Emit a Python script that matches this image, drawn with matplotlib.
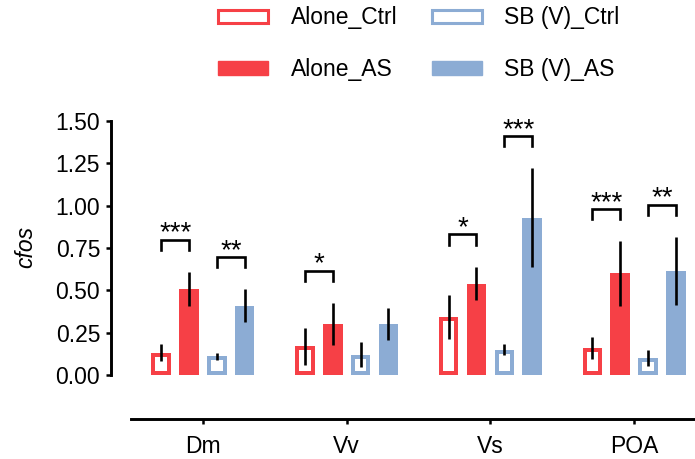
import matplotlib.pyplot as plt
from matplotlib.patches import Patch
import numpy as np

plt.rcParams['font.family'] = ['Liberation Sans', 'DejaVu Sans']

# data
regions = ['Dm', 'Vv', 'Vs', 'POA']
groups = ['Alone_Ctrl', 'Alone_AS', 'SB (V)_Ctrl', 'SB (V)_AS']
alone_ctrl = [0.13, 0.17, 0.34, 0.16]
alone_ctrl_err = [0.05, 0.11, 0.13, 0.065]
alone_as = [0.51, 0.30, 0.54, 0.60]
alone_as_err = [0.10, 0.125, 0.10, 0.19]
sb_ctrl = [0.11, 0.12, 0.15, 0.10]
sb_ctrl_err = [0.02, 0.075, 0.03, 0.047]
sb_as = [0.41, 0.30, 0.93, 0.615]
sb_as_err = [0.095, 0.093, 0.29, 0.20]
# significance: (region index, first bar, second bar, label)
sig = [(0, 0, 1, '***'), (0, 2, 3, '**'), (1, 0, 1, '*'),
       (2, 0, 1, '*'), (2, 2, 3, '***'), (3, 0, 1, '***'), (3, 2, 3, '**')]

red = '#F64046'
blue = '#8CACD4'

fig = plt.figure(figsize=(6.95, 4.59), dpi=100)
ax = fig.add_axes([111 / 695, 40 / 459, 584 / 695, 319 / 459])

x = np.arange(len(regions))
pitch = 0.1935
width = 0.136
offsets = np.array([-1.5, -0.5, 0.5, 1.5]) * pitch

# hollow bars: stroke is centered on the edge, so shrink to keep outer size
lw_px = 4
dx = lw_px / 143.7
dy = (lw_px / 2) / 169.3

means = [alone_ctrl, alone_as, sb_ctrl, sb_as]
errs = [alone_ctrl_err, alone_as_err, sb_ctrl_err, sb_as_err]
colors = [red, red, blue, blue]
hollow = [True, False, True, False]

for i in range(4):
    m = np.array(means[i])
    if hollow[i]:
        ax.bar(x + offsets[i], m - 2 * dy, width=width - dx, bottom=dy,
               facecolor='white', edgecolor=colors[i], linewidth=lw_px * 0.72)
    else:
        ax.bar(x + offsets[i], m, width=width, color=colors[i], linewidth=0)
    ax.errorbar(x + offsets[i], m, yerr=errs[i], fmt='none', ecolor='black',
                elinewidth=1.9, capsize=0, zorder=3)

# brackets and stars
for r, a, b, lab in sig:
    top = max(means[a][r] + errs[a][r], means[b][r] + errs[b][r]) + 0.19
    xa = x[r] + offsets[a]
    xb = x[r] + offsets[b]
    ax.plot([xa, xa, xb, xb], [top - 0.06, top, top, top - 0.06],
            color='black', lw=1.9, solid_joinstyle='miter')
    ax.text((xa + xb) / 2, top - 0.005, lab, ha='center', va='baseline',
            fontsize=20)

ax.set_xlim(-0.640, 3.424)
ax.set_ylim(-0.26, 1.624)
ax.set_yticks(np.arange(0, 1.51, 0.25))
ax.set_yticklabels([f'{v:.2f}' for v in np.arange(0, 1.51, 0.25)])
ax.set_xticks(x)
ax.set_xticklabels(regions)

for s in ['top', 'right']:
    ax.spines[s].set_visible(False)
ax.spines['left'].set_bounds(0, 1.5)
ax.spines['bottom'].set_bounds(-0.5, 3.424)
ax.spines['left'].set_linewidth(2.1)
ax.spines['bottom'].set_linewidth(2.1)
ax.tick_params(axis='both', labelsize=16.5, length=3.8, width=1.8, pad=4)
ax.tick_params(axis='x', pad=7.5)

fig.text(26 / 695, 1 - 247 / 459, 'cfos', rotation=90, style='italic',
         fontsize=16.5, ha='center', va='center')

handles = [
    Patch(facecolor='white', edgecolor=red, linewidth=2.2),
    Patch(facecolor=red, edgecolor=red),
    Patch(facecolor='white', edgecolor=blue, linewidth=2.2),
    Patch(facecolor=blue, edgecolor=blue),
]
fig.legend(handles, groups, loc='upper left', ncol=2, frameon=False,
           bbox_to_anchor=(215 / 695, 1 - 3 / 459), fontsize=16.5,
           handlelength=2.18, handleheight=0.52, handletextpad=0.98,
           columnspacing=1.5, labelspacing=1.25, borderpad=0.15,
           borderaxespad=0)

fig.savefig('out.png', dpi=100)
